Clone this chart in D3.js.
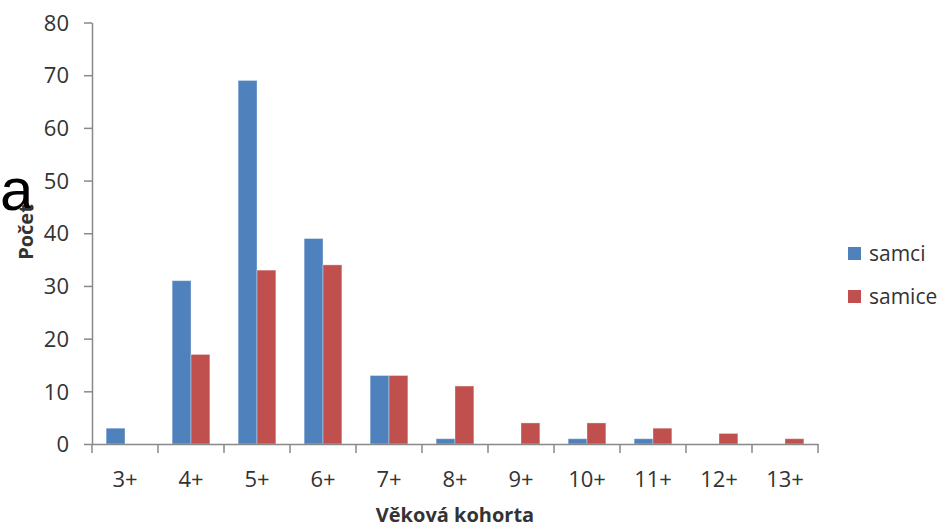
<!DOCTYPE html>
<html>
<head>
<meta charset="utf-8">
<script src="https://cdn.jsdelivr.net/npm/d3@7"></script>
<style>
  html, body { margin: 0; padding: 0; background: #fff; }
  svg { display: block; }
</style>
</head>
<body>
<svg id="chart" width="941" height="529"></svg>
<script>
// Age cohorts and counts per sex
const categories = ["3+", "4+", "5+", "6+", "7+", "8+", "9+", "10+", "11+", "12+", "13+"];
const samci  = [3, 31, 69, 39, 13, 1, 0, 1, 1, 0, 0];
const samice = [0, 17, 33, 34, 13, 11, 4, 4, 3, 2, 1];
const seriesNames = ["samci", "samice"];
const seriesColors = ["#4F81BD", "#C0504D"];
const yTicks = [0, 10, 20, 30, 40, 50, 60, 70, 80];

const svg = d3.select("#chart");
const plotLeft = 92, plotRight = 818, plotTop = 22.5, plotBottom = 444;
const axisColor = "#898989";
const textColor = "#333333";
const font = "'Open Sans', 'Liberation Sans', sans-serif";

const x = d3.scaleBand().domain(categories).range([plotLeft, plotRight]).paddingInner(0).paddingOuter(0);
const y = d3.scaleLinear().domain([0, 80]).range([plotBottom, plotTop]);
const barW = x.bandwidth() / 3.5;
const xs = d3.scaleBand().domain(seriesNames)
  .range([(x.bandwidth() - 2 * barW) / 2, (x.bandwidth() + 2 * barW) / 2]);

// stray slide letter at the left edge
svg.append("text")
  .attr("x", 0).attr("y", 210)
  .attr("font-family", "'Liberation Sans', Arial, sans-serif")
  .attr("font-size", 60)
  .attr("fill", "#000")
  .text("a");

// bars
const data = categories.map((c, i) => ({ c, samci: samci[i], samice: samice[i] }));
const groups = svg.append("g").selectAll("g").data(data).join("g")
  .attr("transform", d => `translate(${x(d.c)},0)`);
seriesNames.forEach((s, si) => {
  groups.filter(d => d[s] > 0).append("rect")
    .attr("x", xs(s))
    .attr("width", barW)
    .attr("y", d => y(d[s]))
    .attr("height", d => y(0) - y(d[s]))
    .attr("fill", seriesColors[si])
    .attr("stroke", "#ffffff")
    .attr("stroke-opacity", 0.35)
    .attr("stroke-width", 1);
});

// y axis
const yAxis = svg.append("g")
  .attr("transform", `translate(${plotLeft},0)`)
  .call(d3.axisLeft(y).tickValues(yTicks).tickSize(8).tickPadding(15).tickSizeOuter(0));
// x axis with ticks at category boundaries
const xAxis = svg.append("g")
  .attr("transform", `translate(0,${plotBottom})`)
  .call(d3.axisBottom(x).tickSize(0).tickPadding(27).tickSizeOuter(0));
xAxis.selectAll(".bound").data(d3.range(categories.length + 1)).join("line")
  .attr("class", "bound")
  .attr("x1", i => plotLeft + i * x.bandwidth()).attr("x2", i => plotLeft + i * x.bandwidth())
  .attr("y1", 0).attr("y2", 9)
  .attr("stroke", axisColor).attr("stroke-width", 1.5);

[yAxis, xAxis].forEach(g => {
  g.selectAll(".domain, .tick line").attr("stroke", axisColor).attr("stroke-width", 1.5);
  g.selectAll(".tick text")
    .attr("font-family", font).attr("font-size", 22).attr("fill", textColor);
});
yAxis.selectAll(".tick text").attr("dy", "0.35em");

// axis titles
svg.append("text")
  .attr("x", 455).attr("y", 522)
  .attr("text-anchor", "middle")
  .attr("font-family", font).attr("font-weight", "bold").attr("font-size", 20)
  .attr("fill", textColor)
  .text("Věková kohorta");
svg.append("text")
  .attr("transform", "translate(33,232) rotate(-90)")
  .attr("text-anchor", "middle")
  .attr("font-family", font).attr("font-weight", "bold").attr("font-size", 20)
  .attr("fill", textColor)
  .text("Počet");

// legend
const legend = svg.append("g").selectAll("g").data(seriesNames).join("g")
  .attr("transform", (d, i) => `translate(848,${247 + i * 43})`);
legend.append("rect")
  .attr("width", 13).attr("height", 13)
  .attr("fill", (d, i) => seriesColors[i]);
legend.append("text")
  .attr("x", 21).attr("y", 14)
  .attr("font-family", font).attr("font-size", 21).attr("fill", textColor)
  .text(d => d);
</script>
</body>
</html>
